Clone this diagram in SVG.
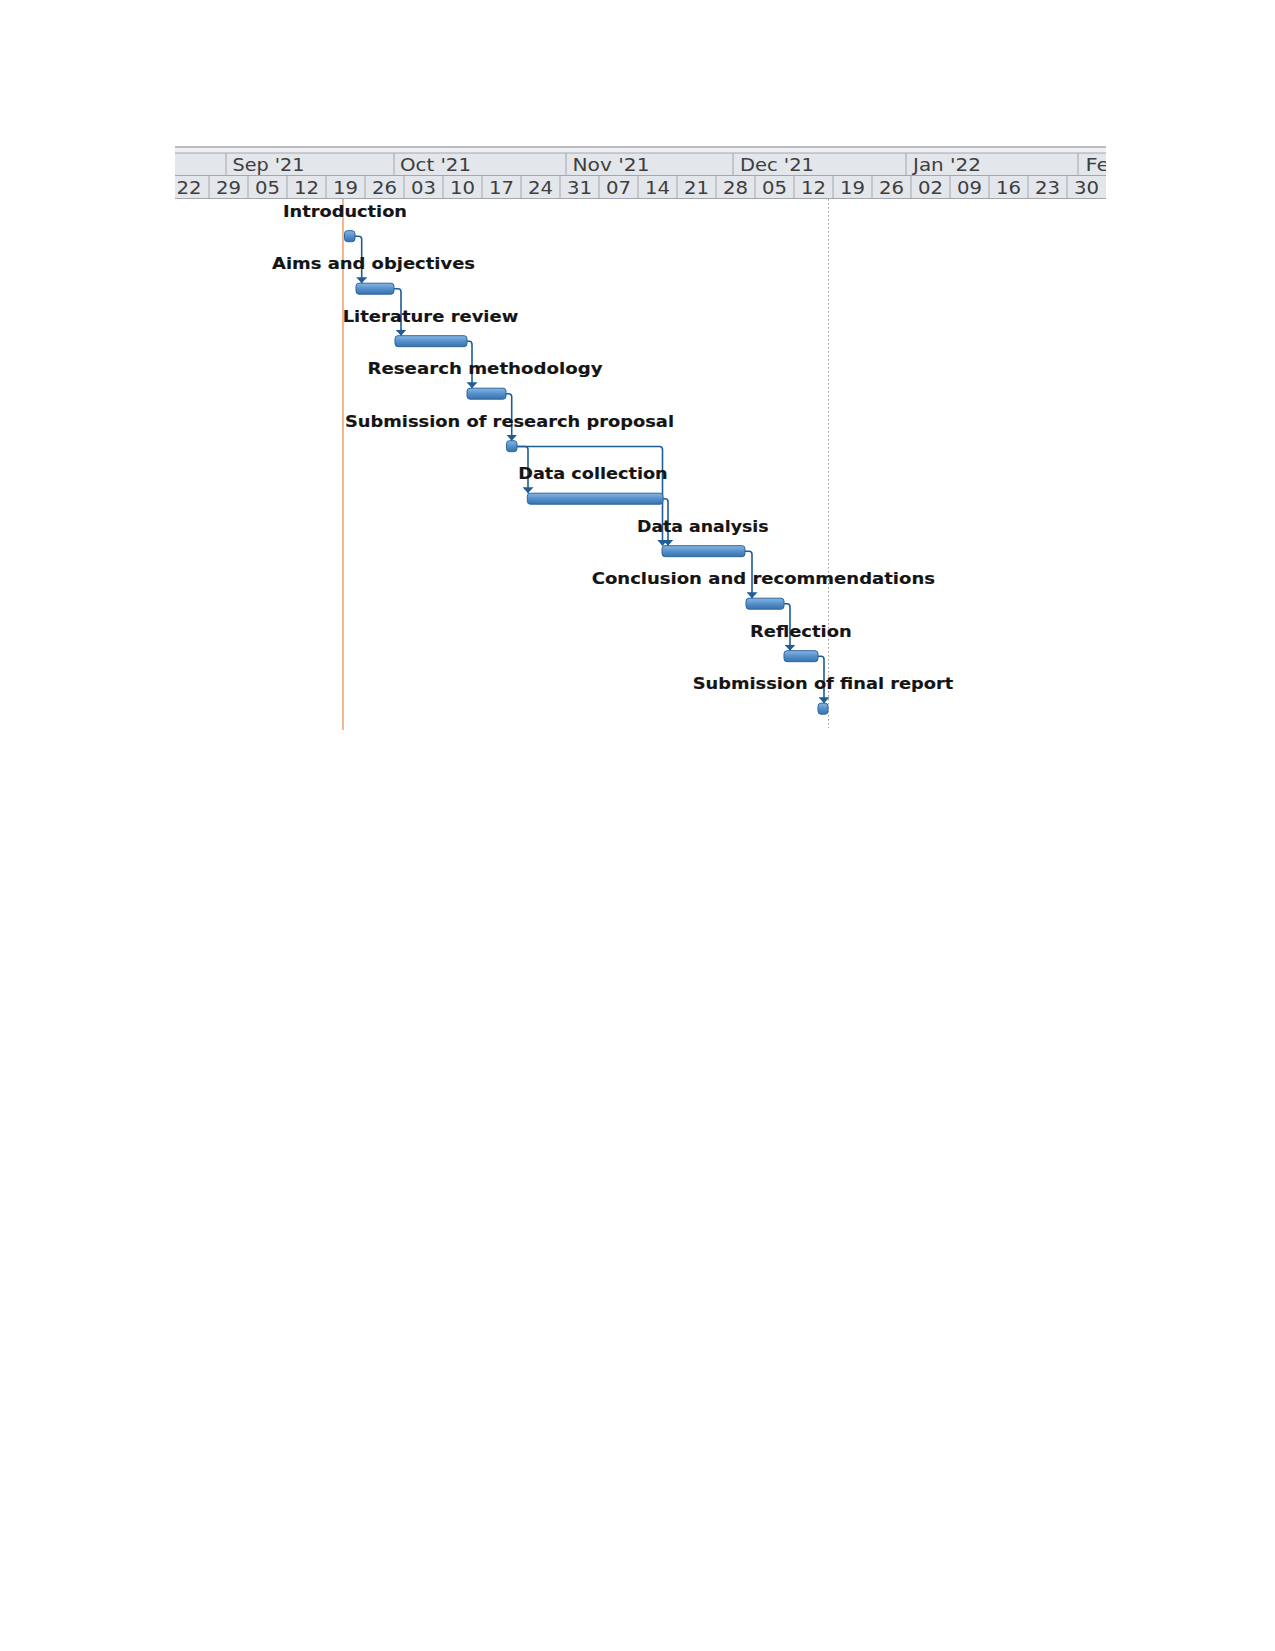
<svg xmlns="http://www.w3.org/2000/svg" width="1275" height="1651" viewBox="0 0 1275 1651">
<style>
.hdr{font-family:"DejaVu Sans","Liberation Sans",sans-serif;font-size:17px;fill:#3e3e3e}
.lbl{font-family:"DejaVu Sans","Liberation Sans",sans-serif;font-size:16.5px;font-weight:bold;fill:#151515;stroke:#151515;stroke-width:0.15}
.bar{fill:url(#barGrad);stroke:#2c679f;stroke-width:1}
.conn{fill:none;stroke:#1f5d97;stroke-width:1.6}
.grid{stroke:#a3a6aa;stroke-width:1}
</style>
<defs>
<linearGradient id="barGrad" x1="0" y1="0" x2="0" y2="1">
<stop offset="0" stop-color="#88b6e2"/>
<stop offset="0.5" stop-color="#5690cb"/>
<stop offset="1" stop-color="#3872ae"/>
</linearGradient>
<marker id="arr" viewBox="0 0 11 6" refX="5.5" refY="6" markerWidth="11" markerHeight="6" markerUnits="userSpaceOnUse" orient="0">
<path d="M0,0 L11,0 L5.5,6 Z" fill="#1f5d97"/>
</marker>
<clipPath id="hclip"><rect x="175" y="140" width="931" height="60"/></clipPath>
</defs>
<rect width="1275" height="1651" fill="#ffffff"/>
<g id="header" clip-path="url(#hclip)">
<rect x="175" y="146" width="931" height="7" fill="#eef0f3"/>
<line x1="175" y1="147" x2="1106" y2="147" stroke="#a8abb0" stroke-width="1.5"/>
<rect x="175" y="153" width="931" height="22" fill="#e3e6ea"/>
<rect x="175" y="176" width="931" height="22.5" fill="#e3e6ea"/>
<line class="grid" x1="175" y1="153" x2="1106" y2="153"/>
<line class="grid" x1="175" y1="175.5" x2="1106" y2="175.5"/>
<line class="grid" x1="175" y1="198.5" x2="1106" y2="198.5"/>
<g class="grid">
<line x1="226" y1="153" x2="226" y2="175.5"/>
<line x1="394" y1="153" x2="394" y2="175.5"/>
<line x1="566" y1="153" x2="566" y2="175.5"/>
<line x1="733" y1="153" x2="733" y2="175.5"/>
<line x1="906" y1="153" x2="906" y2="175.5"/>
<line x1="1078" y1="153" x2="1078" y2="175.5"/>
<line x1="209" y1="175.5" x2="209" y2="198.5"/>
<line x1="248" y1="175.5" x2="248" y2="198.5"/>
<line x1="287" y1="175.5" x2="287" y2="198.5"/>
<line x1="326" y1="175.5" x2="326" y2="198.5"/>
<line x1="365" y1="175.5" x2="365" y2="198.5"/>
<line x1="404" y1="175.5" x2="404" y2="198.5"/>
<line x1="443" y1="175.5" x2="443" y2="198.5"/>
<line x1="482" y1="175.5" x2="482" y2="198.5"/>
<line x1="521" y1="175.5" x2="521" y2="198.5"/>
<line x1="560" y1="175.5" x2="560" y2="198.5"/>
<line x1="599" y1="175.5" x2="599" y2="198.5"/>
<line x1="638" y1="175.5" x2="638" y2="198.5"/>
<line x1="677" y1="175.5" x2="677" y2="198.5"/>
<line x1="716" y1="175.5" x2="716" y2="198.5"/>
<line x1="755" y1="175.5" x2="755" y2="198.5"/>
<line x1="794" y1="175.5" x2="794" y2="198.5"/>
<line x1="833" y1="175.5" x2="833" y2="198.5"/>
<line x1="872" y1="175.5" x2="872" y2="198.5"/>
<line x1="911" y1="175.5" x2="911" y2="198.5"/>
<line x1="950" y1="175.5" x2="950" y2="198.5"/>
<line x1="989" y1="175.5" x2="989" y2="198.5"/>
<line x1="1028" y1="175.5" x2="1028" y2="198.5"/>
<line x1="1067" y1="175.5" x2="1067" y2="198.5"/>
</g>
<g class="hdr">
<text x="232.5" y="170.5" textLength="72" lengthAdjust="spacingAndGlyphs">Sep '21</text>
<text x="400" y="170.5" textLength="71" lengthAdjust="spacingAndGlyphs">Oct '21</text>
<text x="572.5" y="170.5" textLength="77" lengthAdjust="spacingAndGlyphs">Nov '21</text>
<text x="740" y="170.5" textLength="74" lengthAdjust="spacingAndGlyphs">Dec '21</text>
<text x="913" y="170.5" textLength="68" lengthAdjust="spacingAndGlyphs">Jan '22</text>
<text x="1085.5" y="170.5" textLength="24" lengthAdjust="spacingAndGlyphs">Fe</text>
</g>
<g class="hdr" text-anchor="middle">
<text x="189" y="194" textLength="25" lengthAdjust="spacingAndGlyphs">22</text>
<text x="228.5" y="194" textLength="25" lengthAdjust="spacingAndGlyphs">29</text>
<text x="267.5" y="194" textLength="25" lengthAdjust="spacingAndGlyphs">05</text>
<text x="306.5" y="194" textLength="25" lengthAdjust="spacingAndGlyphs">12</text>
<text x="345.5" y="194" textLength="25" lengthAdjust="spacingAndGlyphs">19</text>
<text x="384.5" y="194" textLength="25" lengthAdjust="spacingAndGlyphs">26</text>
<text x="423.5" y="194" textLength="25" lengthAdjust="spacingAndGlyphs">03</text>
<text x="462.5" y="194" textLength="25" lengthAdjust="spacingAndGlyphs">10</text>
<text x="501.5" y="194" textLength="25" lengthAdjust="spacingAndGlyphs">17</text>
<text x="540.5" y="194" textLength="25" lengthAdjust="spacingAndGlyphs">24</text>
<text x="579.5" y="194" textLength="25" lengthAdjust="spacingAndGlyphs">31</text>
<text x="618.5" y="194" textLength="25" lengthAdjust="spacingAndGlyphs">07</text>
<text x="657.5" y="194" textLength="25" lengthAdjust="spacingAndGlyphs">14</text>
<text x="696.5" y="194" textLength="25" lengthAdjust="spacingAndGlyphs">21</text>
<text x="735.5" y="194" textLength="25" lengthAdjust="spacingAndGlyphs">28</text>
<text x="774.5" y="194" textLength="25" lengthAdjust="spacingAndGlyphs">05</text>
<text x="813.5" y="194" textLength="25" lengthAdjust="spacingAndGlyphs">12</text>
<text x="852.5" y="194" textLength="25" lengthAdjust="spacingAndGlyphs">19</text>
<text x="891.5" y="194" textLength="25" lengthAdjust="spacingAndGlyphs">26</text>
<text x="930.5" y="194" textLength="25" lengthAdjust="spacingAndGlyphs">02</text>
<text x="969.5" y="194" textLength="25" lengthAdjust="spacingAndGlyphs">09</text>
<text x="1008.5" y="194" textLength="25" lengthAdjust="spacingAndGlyphs">16</text>
<text x="1047.5" y="194" textLength="25" lengthAdjust="spacingAndGlyphs">23</text>
<text x="1086.5" y="194" textLength="25" lengthAdjust="spacingAndGlyphs">30</text>
</g>
</g>
<g id="markers">
<line x1="343" y1="199" x2="343" y2="730" stroke="#f3a673" stroke-width="1.6"/>
<line x1="828.5" y1="199" x2="828.5" y2="728" stroke="#9a9a9a" stroke-width="1" stroke-dasharray="1.5,2.5"/>
</g>
<g id="connectors">
<path class="conn" marker-end="url(#arr)" d="M355,236.2 H358.7 Q361.7,236.2 361.7,239.2 V283.2"/>
<path class="conn" marker-end="url(#arr)" d="M394,288.7 H398 Q401,288.7 401,291.7 V335.7"/>
<path class="conn" marker-end="url(#arr)" d="M467,341.2 H469 Q472,341.2 472,344.2 V388.2"/>
<path class="conn" marker-end="url(#arr)" d="M506,393.7 H508.7 Q511.7,393.7 511.7,396.7 V440.7"/>
<path class="conn" marker-end="url(#arr)" d="M517,446.5 H525 Q528,446.5 528,449.5 V493.2"/>
<path class="conn" marker-end="url(#arr)" d="M517,446.5 H659.5 Q662.5,446.5 662.5,449.5 V545.7"/>
<path class="conn" marker-end="url(#arr)" d="M663,498.7 H665 Q668,498.7 668,501.7 V545.7"/>
<path class="conn" marker-end="url(#arr)" d="M745,551.2 H749 Q752,551.2 752,554.2 V598.2"/>
<path class="conn" marker-end="url(#arr)" d="M784,603.7 H787 Q790,603.7 790,606.7 V650.7"/>
<path class="conn" marker-end="url(#arr)" d="M818,656.2 H821 Q824,656.2 824,659.2 V703.2"/>
</g>
<g id="task-introduction">
<text class="lbl" x="283" y="216.7" textLength="124" lengthAdjust="spacingAndGlyphs">Introduction</text>
<rect class="bar" x="344.5" y="230.7" width="10.5" height="11" rx="3"/>
</g>
<g id="task-aims">
<text class="lbl" x="272" y="269.2" textLength="203" lengthAdjust="spacingAndGlyphs">Aims and objectives</text>
<rect class="bar" x="356" y="283.2" width="38" height="11" rx="3"/>
</g>
<g id="task-literature">
<text class="lbl" x="342.7" y="321.7" textLength="175.6" lengthAdjust="spacingAndGlyphs">Literature review</text>
<rect class="bar" x="395" y="335.7" width="72" height="11" rx="3"/>
</g>
<g id="task-methodology">
<text class="lbl" x="367.5" y="374.2" textLength="235" lengthAdjust="spacingAndGlyphs">Research methodology</text>
<rect class="bar" x="467" y="388.2" width="39" height="11" rx="3"/>
</g>
<g id="task-proposal">
<text class="lbl" x="345" y="426.7" textLength="329" lengthAdjust="spacingAndGlyphs">Submission of research proposal</text>
<rect class="bar" x="506.5" y="440.7" width="10.5" height="11" rx="3"/>
</g>
<g id="task-data-collection">
<text class="lbl" x="518.3" y="479.2" textLength="149.4" lengthAdjust="spacingAndGlyphs">Data collection</text>
<rect class="bar" x="527.3" y="493.2" width="135.7" height="11" rx="3"/>
</g>
<g id="task-data-analysis">
<text class="lbl" x="637" y="531.7" textLength="131.6" lengthAdjust="spacingAndGlyphs">Data analysis</text>
<rect class="bar" x="662" y="545.7" width="83" height="11" rx="3"/>
</g>
<g id="task-conclusion">
<text class="lbl" x="591.7" y="584.2" textLength="343.3" lengthAdjust="spacingAndGlyphs">Conclusion and recommendations</text>
<rect class="bar" x="746" y="598.2" width="38" height="11" rx="3"/>
</g>
<g id="task-reflection">
<text class="lbl" x="750" y="636.7" textLength="101.7" lengthAdjust="spacingAndGlyphs">Reflection</text>
<rect class="bar" x="784" y="650.7" width="34" height="11" rx="3"/>
</g>
<g id="task-final-report">
<text class="lbl" x="692.7" y="689.2" textLength="260.6" lengthAdjust="spacingAndGlyphs">Submission of final report</text>
<rect class="bar" x="818" y="703.2" width="10" height="11" rx="3"/>
</g>
</svg>
